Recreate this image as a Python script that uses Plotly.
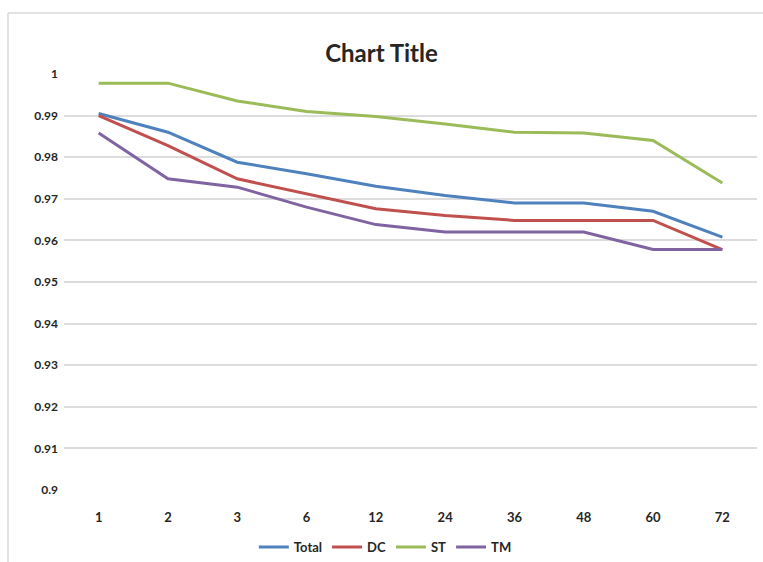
import plotly.graph_objects as go

categories = ["1", "2", "3", "6", "12", "24", "36", "48", "60", "72"]
total = [0.9905, 0.9860, 0.9788, 0.9760, 0.9730, 0.9708, 0.9690, 0.9690, 0.9670, 0.9608]
dc = [0.9900, 0.9828, 0.9748, 0.9712, 0.9676, 0.9660, 0.9648, 0.9648, 0.9648, 0.9578]
st = [0.9978, 0.9978, 0.9935, 0.9910, 0.9898, 0.9880, 0.9860, 0.9858, 0.9840, 0.9738]
tm = [0.9858, 0.9748, 0.9728, 0.9680, 0.9638, 0.9620, 0.9620, 0.9620, 0.9578, 0.9578]
y_ticks = [0.9, 0.91, 0.92, 0.93, 0.94, 0.95, 0.96, 0.97, 0.98, 0.99, 1.0]
y_labels = ["0.9", "0.91", "0.92", "0.93", "0.94", "0.95", "0.96", "0.97", "0.98", "0.99", "1"]

series = [("Total", total, "#4F81BD"), ("DC", dc, "#C0504D"),
          ("ST", st, "#9BBB59"), ("TM", tm, "#8064A2")]

W, H = 763, 562
L, R, T, B = 64, 6, 74, 72

fig = go.Figure()
for name, vals, col in series:
    fig.add_trace(go.Scatter(x=categories, y=vals, name=name, mode="lines",
                             line=dict(color=col, width=3)))

fig.update_layout(
    width=W, height=H,
    margin=dict(l=L, r=R, t=T, b=B),
    paper_bgcolor="white", plot_bgcolor="white",
    font=dict(family="Lato", color="#262626", size=12),
    title=dict(text="<b>Chart Title</b>", x=0.5, xref="container", xanchor="center",
               y=1 - 54 / H, yref="container", yanchor="middle",
               font=dict(size=24, color="#262626", family="Lato")),
    showlegend=True,
    legend=dict(orientation="h", xref="container", yref="container",
                x=0.505, xanchor="center", y=1 - 547 / H, yanchor="middle",
                font=dict(size=13, color="#262626", weight="bold"),
                traceorder="normal", tracegroupgap=0),
    xaxis=dict(type="category", range=[-0.5, 9.5], showgrid=False, zeroline=False,
               showline=False, ticks="", ticklabelstandoff=18,
               tickfont=dict(size=13, color="#262626", weight="bold")),
    yaxis=dict(range=[0.9, 1.0], tickvals=y_ticks, ticktext=y_labels,
               showgrid=True, gridcolor="#DCDCDC", gridwidth=1.5, zeroline=False,
               showline=False, ticks="", ticklabelstandoff=5,
               tickfont=dict(size=12, color="#262626", weight="bold")),
    shapes=[
        dict(type="line", xref="paper", yref="paper",
             x0=(8 - L) / (W - L - R), x1=(W + 5 - L) / (W - L - R),
             y0=(H - 13 - B) / (H - T - B), y1=(H - 13 - B) / (H - T - B),
             line=dict(color="#D9D9D9", width=1.5)),
        dict(type="line", xref="paper", yref="paper",
             x0=(8 - L) / (W - L - R), x1=(8 - L) / (W - L - R),
             y0=(H - 13 - B) / (H - T - B), y1=(-5 - B) / (H - T - B),
             line=dict(color="#D9D9D9", width=1.5)),
    ],
)

fig.write_html("out.html", config={"displayModeBar": False},
               post_script="document.body.style.margin='0px';")
